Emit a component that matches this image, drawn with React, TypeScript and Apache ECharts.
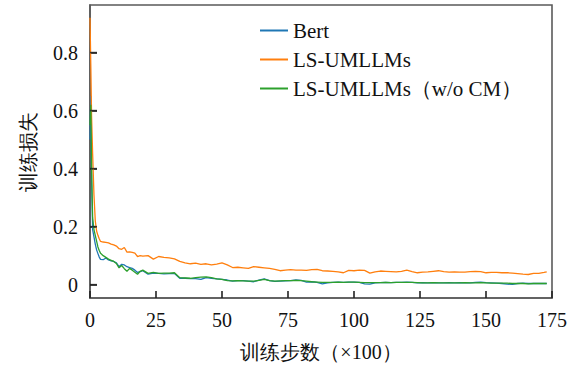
import React, { useEffect, useRef } from "react";
import * as echarts from "echarts";

const steps = [
  0, 0.3, 0.6, 1, 1.5, 2, 2.5, 3, 3.5, 4, 5, 6, 7, 8, 9, 10, 11, 12, 13, 14, 15, 16, 17, 18, 19, 20,
  22, 24, 26, 28, 30, 32, 34, 36, 38, 40, 42, 44, 46, 48, 50, 52, 54, 56, 58, 60, 62, 64, 66, 68, 70,
  72, 74, 76, 78, 80, 82, 84, 86, 88, 90, 92, 94, 96, 98, 100, 102, 104, 106, 108, 110, 112, 114, 116,
  118, 120, 122, 124, 126, 128, 130, 132, 134, 136, 138, 140, 142, 144, 146, 148, 150, 152, 154, 156,
  158, 160, 162, 164, 166, 168, 170, 172, 173,
];

const bertLoss = [
  0.5, 0.65, 0.36, 0.19, 0.165, 0.14, 0.12, 0.107, 0.095, 0.087, 0.086, 0.092, 0.085, 0.082, 0.08, 0.075,
  0.062, 0.07, 0.068, 0.062, 0.059, 0.056, 0.05, 0.042, 0.045, 0.048,
  0.036, 0.04, 0.039, 0.037, 0.038, 0.038, 0.022, 0.022, 0.021, 0.021, 0.018, 0.024, 0.022, 0.02, 0.018,
  0.016, 0.012, 0.014, 0.014, 0.012, 0.01, 0.016, 0.02, 0.014, 0.011, 0.012, 0.013, 0.014, 0.016, 0.015,
  0.009, 0.01, 0.008, 0.003, 0.006, 0.008, 0.009, 0.008, 0.009, 0.009, 0.008, 0.003, 0.002, 0.006, 0.007,
  0.008, 0.007, 0.008, 0.008, 0.009, 0.008, 0.006, 0.007, 0.006, 0.007, 0.006, 0.006, 0.007, 0.006, 0.007,
  0.006, 0.006, 0.008, 0.009, 0.007, 0.006, 0.005, 0.004, 0.002, 0.001, 0.004, 0.005, 0.004, 0.004, 0.004,
  0.004, 0.004,
];

const lsLoss = [
  0.92, 0.76, 0.58, 0.45, 0.31, 0.22, 0.185, 0.17, 0.158, 0.149, 0.147, 0.146, 0.144, 0.14, 0.137, 0.133,
  0.124, 0.122, 0.128, 0.112, 0.113, 0.111, 0.109, 0.097, 0.1, 0.098,
  0.1, 0.088, 0.097, 0.094, 0.092, 0.089, 0.08, 0.075, 0.072, 0.074, 0.07, 0.072, 0.068, 0.071, 0.075,
  0.068, 0.059, 0.06, 0.058, 0.056, 0.062, 0.06, 0.058, 0.056, 0.053, 0.048, 0.05, 0.052, 0.05, 0.05,
  0.049, 0.052, 0.053, 0.048, 0.047, 0.046, 0.044, 0.041, 0.049, 0.048, 0.05, 0.049, 0.04, 0.044, 0.047,
  0.046, 0.045, 0.044, 0.046, 0.05, 0.045, 0.041, 0.043, 0.044, 0.046, 0.048, 0.045, 0.043, 0.044, 0.043,
  0.043, 0.045, 0.046, 0.045, 0.041, 0.042, 0.042, 0.041, 0.041, 0.04, 0.038, 0.036, 0.035, 0.039, 0.039,
  0.042, 0.044,
];

const noCmLoss = [
  0.55, 0.62, 0.4, 0.23, 0.19, 0.17, 0.15, 0.13, 0.118, 0.108, 0.1, 0.094, 0.088, 0.084, 0.08, 0.073,
  0.058, 0.066, 0.055, 0.046, 0.056, 0.05, 0.043, 0.036, 0.046, 0.05,
  0.039, 0.042, 0.039, 0.04, 0.04, 0.041, 0.024, 0.023, 0.022, 0.024, 0.026, 0.027, 0.024, 0.02, 0.018,
  0.014, 0.013, 0.014, 0.013, 0.012, 0.012, 0.015, 0.018, 0.014, 0.012, 0.013, 0.014, 0.014, 0.015, 0.014,
  0.012, 0.01, 0.009, 0.008, 0.008, 0.008, 0.009, 0.008, 0.009, 0.009, 0.008, 0.007, 0.007, 0.007, 0.007,
  0.008, 0.007, 0.008, 0.008, 0.008, 0.008, 0.007, 0.006, 0.006, 0.007, 0.006, 0.006, 0.006, 0.006, 0.006,
  0.007, 0.006, 0.006, 0.007, 0.006, 0.005, 0.005, 0.005, 0.005, 0.004, 0.004, 0.004, 0.003, 0.004, 0.004,
  0.004, 0.004,
];

const seriesNames = ["Bert", "LS-UMLLMs", "LS-UMLLMs（w/o CM）"];
const seriesColors = ["#1f77b4", "#ff7f0e", "#2ca02c"];
const yTickValues = [0, 0.2, 0.4, 0.6, 0.8];
const xAxisName = "训练步数（×100）";
const yAxisName = "训练损失";

const FONT = "Liberation Serif, Times New Roman, serif";
const AXIS_COLOR = "#5a5a5a";
const TICK_COLOR = "#222222";

export default function App() {
  const ref = useRef<HTMLDivElement>(null);
  useEffect(() => {
    if (!ref.current) return;
    const chart = echarts.init(ref.current, undefined, { renderer: "svg" });
    const allData = [bertLoss, lsLoss, noCmLoss];
    chart.setOption({
      animation: false,
      backgroundColor: "#ffffff",
      textStyle: { fontFamily: FONT },
      grid: {
        left: 90,
        top: 5,
        width: 462,
        height: 296,
        show: true,
        borderColor: AXIS_COLOR,
        borderWidth: 1.6,
        backgroundColor: "transparent",
      },
      legend: {
        orient: "vertical",
        left: 255,
        top: 15,
        itemWidth: 28,
        itemHeight: 2,
        itemGap: 8,
        icon: "rect",
        textStyle: { fontFamily: FONT, fontSize: 21, color: "#111" },
        data: seriesNames,
      },
      xAxis: {
        type: "value",
        min: 0,
        max: 175,
        interval: 25,
        name: xAxisName,
        nameLocation: "middle",
        nameGap: 44,
        nameTextStyle: { fontFamily: FONT, fontSize: 20, color: "#111" },
        axisLine: { show: true, onZero: false, lineStyle: { color: AXIS_COLOR, width: 1.6 } },
        axisTick: { show: true, inside: true, length: 7, lineStyle: { color: TICK_COLOR, width: 1.6 } },
        axisLabel: { fontFamily: FONT, fontSize: 20, color: "#111", margin: 12 },
        splitLine: { show: false },
      },
      yAxis: {
        type: "value",
        min: -0.046,
        max: 0.964,
        splitNumber: 5,
        name: yAxisName,
        nameLocation: "middle",
        nameGap: 52,
        nameTextStyle: { fontFamily: FONT, fontSize: 20, color: "#111" },
        axisLine: { show: true, onZero: false, lineStyle: { color: AXIS_COLOR, width: 1.6 } },
        axisTick: { show: true, inside: true, length: 7, lineStyle: { color: TICK_COLOR, width: 1.6 } },
        axisLabel: {
          fontFamily: FONT,
          fontSize: 20,
          color: "#111",
          margin: 12,
          showMinLabel: false,
          showMaxLabel: false,
          formatter: (v: number) => String(Math.round(v * 10) / 10),
        },
        splitLine: { show: false },
      },
      series: [
        ...seriesNames.map((name, i) => ({
          name,
          type: "line",
          showSymbol: false,
          symbol: "none",
          color: seriesColors[i],
          lineStyle: { width: 1.3, color: seriesColors[i] },
          data: steps.map((s, j) => [s, allData[i][j]]),
        })),
        {
          name: "yTicks",
          type: "scatter",
          silent: true,
          clip: false,
          symbol: "rect",
          symbolSize: [7, 1.6],
          symbolOffset: [3.5, 0],
          itemStyle: { color: TICK_COLOR },
          data: yTickValues.map((v) => [0, v]),
          z: 5,
        },
      ],
    });
    return () => chart.dispose();
  }, []);
  return (
    <div
      ref={ref}
      style={{ position: "absolute", left: 0, top: 0, width: 576, height: 367 }}
    />
  );
}
